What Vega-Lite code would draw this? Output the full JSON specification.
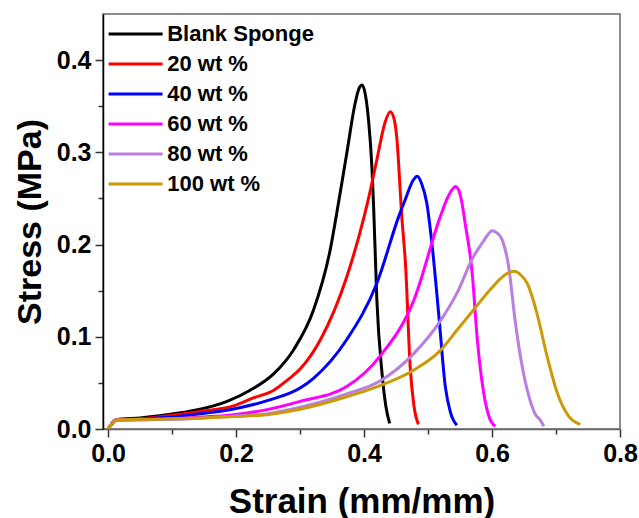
{
  "$schema": "https://vega.github.io/schema/vega-lite/v6.json",
  "width": 517,
  "height": 415,
  "autosize": {"type": "none"},
  "padding": {"left": 103, "top": 14, "right": 19, "bottom": 89},
  "config": {
    "font": "Liberation Sans",
    "view": {"stroke": "#666666", "strokeWidth": 1.5}
  },
  "data": {
    "values": [
      {"s": "Blank Sponge", "x": 0, "y": 0},
      {"s": "Blank Sponge", "x": 0.005, "y": 0.005},
      {"s": "Blank Sponge", "x": 0.013, "y": 0.010},
      {"s": "Blank Sponge", "x": 0.05, "y": 0.012},
      {"s": "Blank Sponge", "x": 0.092, "y": 0.0155},
      {"s": "Blank Sponge", "x": 0.134, "y": 0.020},
      {"s": "Blank Sponge", "x": 0.186, "y": 0.030},
      {"s": "Blank Sponge", "x": 0.222, "y": 0.042},
      {"s": "Blank Sponge", "x": 0.259, "y": 0.060},
      {"s": "Blank Sponge", "x": 0.29, "y": 0.086},
      {"s": "Blank Sponge", "x": 0.321, "y": 0.129},
      {"s": "Blank Sponge", "x": 0.347, "y": 0.194},
      {"s": "Blank Sponge", "x": 0.36, "y": 0.245},
      {"s": "Blank Sponge", "x": 0.373, "y": 0.299},
      {"s": "Blank Sponge", "x": 0.386, "y": 0.353},
      {"s": "Blank Sponge", "x": 0.392, "y": 0.369},
      {"s": "Blank Sponge", "x": 0.397, "y": 0.373},
      {"s": "Blank Sponge", "x": 0.401, "y": 0.366},
      {"s": "Blank Sponge", "x": 0.407, "y": 0.335},
      {"s": "Blank Sponge", "x": 0.4125, "y": 0.281},
      {"s": "Blank Sponge", "x": 0.415, "y": 0.24},
      {"s": "Blank Sponge", "x": 0.42, "y": 0.14},
      {"s": "Blank Sponge", "x": 0.428, "y": 0.061},
      {"s": "Blank Sponge", "x": 0.434, "y": 0.025},
      {"s": "Blank Sponge", "x": 0.44, "y": 0.006},

      {"s": "20 wt %", "x": 0, "y": 0},
      {"s": "20 wt %", "x": 0.005, "y": 0.005},
      {"s": "20 wt %", "x": 0.013, "y": 0.010},
      {"s": "20 wt %", "x": 0.05, "y": 0.011},
      {"s": "20 wt %", "x": 0.1, "y": 0.015},
      {"s": "20 wt %", "x": 0.144, "y": 0.019},
      {"s": "20 wt %", "x": 0.196, "y": 0.025},
      {"s": "20 wt %", "x": 0.228, "y": 0.034},
      {"s": "20 wt %", "x": 0.259, "y": 0.042},
      {"s": "20 wt %", "x": 0.28, "y": 0.053},
      {"s": "20 wt %", "x": 0.30, "y": 0.065},
      {"s": "20 wt %", "x": 0.332, "y": 0.097},
      {"s": "20 wt %", "x": 0.373, "y": 0.165},
      {"s": "20 wt %", "x": 0.40, "y": 0.230},
      {"s": "20 wt %", "x": 0.407, "y": 0.250},
      {"s": "20 wt %", "x": 0.42, "y": 0.292},
      {"s": "20 wt %", "x": 0.433, "y": 0.333},
      {"s": "20 wt %", "x": 0.441, "y": 0.344},
      {"s": "20 wt %", "x": 0.447, "y": 0.336},
      {"s": "20 wt %", "x": 0.451, "y": 0.317},
      {"s": "20 wt %", "x": 0.459, "y": 0.230},
      {"s": "20 wt %", "x": 0.465, "y": 0.176},
      {"s": "20 wt %", "x": 0.472, "y": 0.068},
      {"s": "20 wt %", "x": 0.478, "y": 0.025},
      {"s": "20 wt %", "x": 0.485, "y": 0.005},

      {"s": "40 wt %", "x": 0, "y": 0},
      {"s": "40 wt %", "x": 0.005, "y": 0.005},
      {"s": "40 wt %", "x": 0.013, "y": 0.010},
      {"s": "40 wt %", "x": 0.05, "y": 0.011},
      {"s": "40 wt %", "x": 0.1, "y": 0.013},
      {"s": "40 wt %", "x": 0.144, "y": 0.0165},
      {"s": "40 wt %", "x": 0.196, "y": 0.0217},
      {"s": "40 wt %", "x": 0.25, "y": 0.031},
      {"s": "40 wt %", "x": 0.30, "y": 0.0444},
      {"s": "40 wt %", "x": 0.321, "y": 0.055},
      {"s": "40 wt %", "x": 0.373, "y": 0.097},
      {"s": "40 wt %", "x": 0.42, "y": 0.158},
      {"s": "40 wt %", "x": 0.454, "y": 0.230},
      {"s": "40 wt %", "x": 0.465, "y": 0.250},
      {"s": "40 wt %", "x": 0.477, "y": 0.270},
      {"s": "40 wt %", "x": 0.483, "y": 0.274},
      {"s": "40 wt %", "x": 0.49, "y": 0.266},
      {"s": "40 wt %", "x": 0.498, "y": 0.245},
      {"s": "40 wt %", "x": 0.506, "y": 0.2015},
      {"s": "40 wt %", "x": 0.517, "y": 0.122},
      {"s": "40 wt %", "x": 0.527, "y": 0.046},
      {"s": "40 wt %", "x": 0.535, "y": 0.018},
      {"s": "40 wt %", "x": 0.545, "y": 0.004},

      {"s": "60 wt %", "x": 0, "y": 0},
      {"s": "60 wt %", "x": 0.005, "y": 0.005},
      {"s": "60 wt %", "x": 0.013, "y": 0.010},
      {"s": "60 wt %", "x": 0.05, "y": 0.010},
      {"s": "60 wt %", "x": 0.1, "y": 0.011},
      {"s": "60 wt %", "x": 0.15, "y": 0.013},
      {"s": "60 wt %", "x": 0.196, "y": 0.0155},
      {"s": "60 wt %", "x": 0.248, "y": 0.021},
      {"s": "60 wt %", "x": 0.30, "y": 0.030},
      {"s": "60 wt %", "x": 0.373, "y": 0.046},
      {"s": "60 wt %", "x": 0.425, "y": 0.079},
      {"s": "60 wt %", "x": 0.478, "y": 0.140},
      {"s": "60 wt %", "x": 0.519, "y": 0.230},
      {"s": "60 wt %", "x": 0.53, "y": 0.250},
      {"s": "60 wt %", "x": 0.537, "y": 0.259},
      {"s": "60 wt %", "x": 0.543, "y": 0.263},
      {"s": "60 wt %", "x": 0.549, "y": 0.257},
      {"s": "60 wt %", "x": 0.553, "y": 0.245},
      {"s": "60 wt %", "x": 0.558, "y": 0.223},
      {"s": "60 wt %", "x": 0.569, "y": 0.169},
      {"s": "60 wt %", "x": 0.577, "y": 0.097},
      {"s": "60 wt %", "x": 0.587, "y": 0.039},
      {"s": "60 wt %", "x": 0.596, "y": 0.012},
      {"s": "60 wt %", "x": 0.605, "y": 0.003},

      {"s": "80 wt %", "x": 0, "y": 0},
      {"s": "80 wt %", "x": 0.005, "y": 0.005},
      {"s": "80 wt %", "x": 0.013, "y": 0.009},
      {"s": "80 wt %", "x": 0.05, "y": 0.010},
      {"s": "80 wt %", "x": 0.1, "y": 0.0105},
      {"s": "80 wt %", "x": 0.15, "y": 0.012},
      {"s": "80 wt %", "x": 0.2, "y": 0.014},
      {"s": "80 wt %", "x": 0.25, "y": 0.0165},
      {"s": "80 wt %", "x": 0.30, "y": 0.0235},
      {"s": "80 wt %", "x": 0.373, "y": 0.038},
      {"s": "80 wt %", "x": 0.425, "y": 0.052},
      {"s": "80 wt %", "x": 0.478, "y": 0.082},
      {"s": "80 wt %", "x": 0.519, "y": 0.117},
      {"s": "80 wt %", "x": 0.545, "y": 0.147},
      {"s": "80 wt %", "x": 0.571, "y": 0.187},
      {"s": "80 wt %", "x": 0.585, "y": 0.202},
      {"s": "80 wt %", "x": 0.595, "y": 0.212},
      {"s": "80 wt %", "x": 0.60, "y": 0.215},
      {"s": "80 wt %", "x": 0.607, "y": 0.213},
      {"s": "80 wt %", "x": 0.616, "y": 0.205},
      {"s": "80 wt %", "x": 0.626, "y": 0.176},
      {"s": "80 wt %", "x": 0.636, "y": 0.118},
      {"s": "80 wt %", "x": 0.649, "y": 0.061},
      {"s": "80 wt %", "x": 0.66, "y": 0.030},
      {"s": "80 wt %", "x": 0.668, "y": 0.0155},
      {"s": "80 wt %", "x": 0.675, "y": 0.010},
      {"s": "80 wt %", "x": 0.681, "y": 0.003},

      {"s": "100 wt %", "x": 0, "y": 0},
      {"s": "100 wt %", "x": 0.005, "y": 0.005},
      {"s": "100 wt %", "x": 0.013, "y": 0.010},
      {"s": "100 wt %", "x": 0.05, "y": 0.0105},
      {"s": "100 wt %", "x": 0.1, "y": 0.011},
      {"s": "100 wt %", "x": 0.144, "y": 0.012},
      {"s": "100 wt %", "x": 0.2, "y": 0.0135},
      {"s": "100 wt %", "x": 0.248, "y": 0.0155},
      {"s": "100 wt %", "x": 0.3, "y": 0.0215},
      {"s": "100 wt %", "x": 0.373, "y": 0.035},
      {"s": "100 wt %", "x": 0.425, "y": 0.047},
      {"s": "100 wt %", "x": 0.478, "y": 0.064},
      {"s": "100 wt %", "x": 0.519, "y": 0.085},
      {"s": "100 wt %", "x": 0.545, "y": 0.107},
      {"s": "100 wt %", "x": 0.571, "y": 0.129},
      {"s": "100 wt %", "x": 0.597, "y": 0.151},
      {"s": "100 wt %", "x": 0.618, "y": 0.166},
      {"s": "100 wt %", "x": 0.634, "y": 0.171},
      {"s": "100 wt %", "x": 0.645, "y": 0.167},
      {"s": "100 wt %", "x": 0.655, "y": 0.158},
      {"s": "100 wt %", "x": 0.67, "y": 0.126},
      {"s": "100 wt %", "x": 0.686, "y": 0.079},
      {"s": "100 wt %", "x": 0.702, "y": 0.039},
      {"s": "100 wt %", "x": 0.72, "y": 0.0137},
      {"s": "100 wt %", "x": 0.738, "y": 0.005}
    ]
  },
  "mark": {"type": "line", "strokeWidth": 3, "interpolate": "monotone", "clip": true},
  "encoding": {
    "x": {
      "field": "x",
      "type": "quantitative",
      "scale": {"domain": [-0.008, 0.8], "nice": false, "zero": false},
      "axis": {
        "title": "Strain (mm/mm)",
        "titleFontSize": 35,
        "titleFontWeight": "bold",
        "titleColor": "black",
        "titlePadding": 18,
        "values": [0, 0.1, 0.2, 0.3, 0.4, 0.5, 0.6, 0.7, 0.8],
        "labelExpr": "abs(datum.value*5 - round(datum.value*5)) < 0.001 ? format(datum.value, '.1f') : ''",
        "labelFontSize": 25,
        "labelFontWeight": "bold",
        "labelColor": "black",
        "labelPadding": 4,
        "labelFlush": false,
        "labelOverlap": false,
        "grid": false,
        "domainColor": "#666666",
        "domainWidth": 1.5,
        "tickColor": "#333333",
        "tickWidth": 1.5,
        "tickSize": {"condition": {"test": "abs(datum.value*5 - round(datum.value*5)) < 0.001", "value": 8}, "value": 5}
      }
    },
    "y": {
      "field": "y",
      "type": "quantitative",
      "scale": {"domain": [0, 0.45], "nice": false, "zero": false},
      "axis": {
        "title": "Stress (MPa)",
        "titleFontSize": 34,
        "titleFontWeight": "bold",
        "titleColor": "black",
        "titlePadding": 9,
        "values": [0, 0.05, 0.1, 0.15, 0.2, 0.25, 0.3, 0.35, 0.4],
        "labelExpr": "abs(datum.value*10 - round(datum.value*10)) < 0.001 ? format(datum.value, '.1f') : ''",
        "labelFontSize": 25,
        "labelFontWeight": "bold",
        "labelColor": "black",
        "labelPadding": 4,
        "labelFlush": false,
        "labelOverlap": false,
        "grid": false,
        "domainColor": "#000000",
        "domainWidth": 1.5,
        "tickColor": "#333333",
        "tickWidth": 1.5,
        "tickSize": {"condition": {"test": "abs(datum.value*10 - round(datum.value*10)) < 0.001", "value": 8}, "value": 5}
      }
    },
    "color": {
      "field": "s",
      "type": "nominal",
      "sort": null,
      "scale": {
        "domain": ["Blank Sponge", "20 wt %", "40 wt %", "60 wt %", "80 wt %", "100 wt %"],
        "range": ["#000000", "#ff0000", "#0000ff", "#ff00ff", "#b87ee0", "#cc9a06"]
      },
      "legend": {
        "title": null,
        "orient": "none",
        "legendX": 21.6,
        "legendY": 9,
        "padding": 0,
        "symbolType": "M-5,0H5",
        "symbolSize": 116.64,
        "symbolStrokeWidth": 3,
        "symbolFillColor": "transparent",
        "labelFontSize": 22,
        "labelFontWeight": "bold",
        "labelColor": "black",
        "labelOffset": 20.6,
        "rowPadding": 8
      }
    }
  }
}
